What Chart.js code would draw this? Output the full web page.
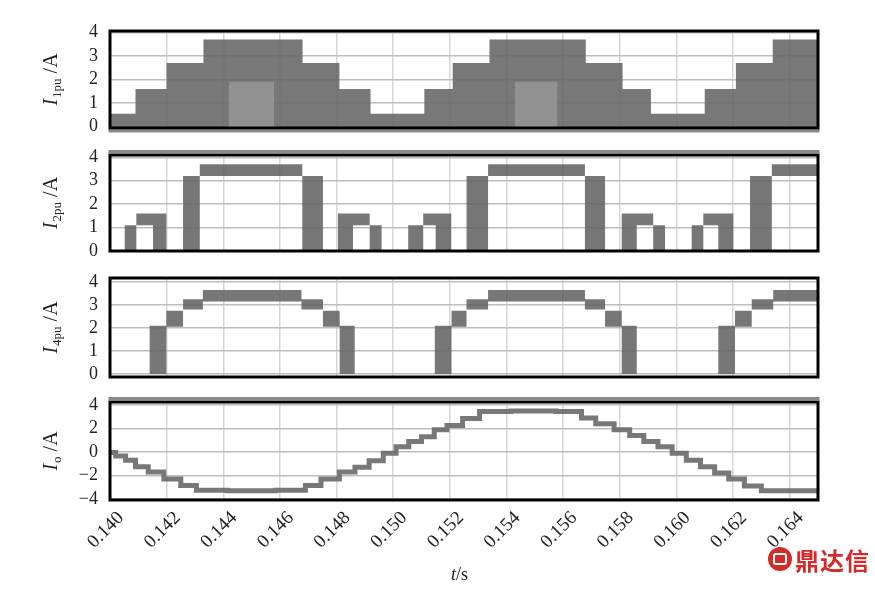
<!DOCTYPE html>
<html>
<head>
<meta charset="utf-8">
<script src="https://cdn.jsdelivr.net/npm/chart.js@4.4.0/dist/chart.umd.min.js"></script>
<style>
  body { margin: 0; background: #fff; width: 875px; height: 589px; position: relative; overflow: hidden; }
  canvas { position: absolute; left: 0; }
  .xt { position: absolute; left: 451px; top: 564px; font: 18px 'Liberation Serif', serif; color: #222; }
  .mark { position: absolute; left: 768px; top: 545px; height: 28px; display: flex; align-items: center; }
  .logo { width: 24px; height: 24px; border-radius: 50%; background: #d42a2a; position: relative; margin-right: 3px; }
  .logo:after { content: ''; position: absolute; left: 5px; top: 6px; width: 10px; height: 8px; border: 2px solid #fff; border-radius: 3px; }
  .mark span { font: bold 24px 'Noto Sans CJK SC', sans-serif; color: #d42a2a; letter-spacing: 1px; }
</style>
</head>
<body>
<canvas id="c1" width="875" height="121" style="top:19px"></canvas>
<canvas id="c2" width="875" height="120" style="top:143px"></canvas>
<canvas id="c3" width="875" height="123" style="top:266px"></canvas>
<canvas id="c4" width="875" height="199" style="top:390px"></canvas>
<div class="xt"><i>t</i>/s</div>
<div class="mark"><div class="logo"></div><span>鼎达信</span></div>
<script>
// time ticks (s)
const xTicks = [0.140, 0.142, 0.144, 0.146, 0.148, 0.150, 0.152, 0.154, 0.156, 0.158, 0.160, 0.162, 0.164];

// I1pu envelope (step levels, held until next time)
const i1T  = [0.1400, 0.1409, 0.1420, 0.1433, 0.1468, 0.1481, 0.1492, 0.1511, 0.1521, 0.1534, 0.1568, 0.1581, 0.1591, 0.1610, 0.1621, 0.1634, 0.1650];
const i1Hi = [0.55, 1.6, 2.7, 3.7, 2.7, 1.6, 0.55, 1.6, 2.7, 3.7, 2.7, 1.6, 0.55, 1.6, 2.7, 3.7, 3.7];
// lighter inner patches of I1pu
const i1PatchT = [0.1442, 0.1458, 0.1500, 0.1543, 0.1558];
const i1PatchY = [1.9, 1.9, null, 1.9, 1.9];

// I2pu band: lower / upper edge
const i2T  = [0.1400, 0.14052, 0.14093, 0.14152, 0.14199, 0.14258, 0.14317, 0.14679, 0.14752, 0.14805, 0.14858, 0.14917, 0.14959,
              0.15053, 0.15106, 0.15150, 0.15205, 0.15259, 0.15335, 0.15677, 0.15748, 0.15807, 0.15860, 0.15918, 0.15960,
              0.16054, 0.16095, 0.16148, 0.16201, 0.16260, 0.16337, 0.1650];
const i2Lo = [0, 0, 1.1, 0, 0, 0, 3.2, 0, 0, 0, 1.1, 0, 0,
              0, 1.1, 0, 0, 0, 3.2, 0, 0, 0, 1.1, 0, 0,
              0, 1.1, 0, 0, 0, 3.2, 3.2];
const i2Hi = [0, 1.1, 1.6, 1.6, 0, 3.2, 3.7, 3.2, 0, 1.6, 1.6, 1.1, 0,
              1.1, 1.6, 1.6, 0, 3.2, 3.7, 3.2, 0, 1.6, 1.6, 1.1, 0,
              1.1, 1.6, 1.6, 0, 3.2, 3.7, 3.7];

// I4pu band: lower / upper edge
const i4T  = [0.1400, 0.1414, 0.14199, 0.14258, 0.14328, 0.14676, 0.14752, 0.14811, 0.14864,
              0.15147, 0.15206, 0.15259, 0.15335, 0.15677, 0.15748, 0.15807, 0.1586,
              0.16148, 0.16207, 0.16266, 0.16342, 0.1650];
const i4Lo = [0, 0, 2.05, 2.8, 3.15, 2.8, 2.05, 0, 0,
              0, 2.05, 2.8, 3.15, 2.8, 2.05, 0, 0,
              0, 2.05, 2.8, 3.15, 3.15];
const i4Hi = [0, 2.1, 2.75, 3.25, 3.65, 3.25, 2.75, 2.1, 0,
              2.1, 2.75, 3.25, 3.65, 3.25, 2.75, 2.1, 0,
              2.1, 2.75, 3.25, 3.65, 3.65];

// Io staircase
const ioT = [0.1400, 0.1404, 0.1407, 0.1411, 0.1416, 0.1422, 0.1428, 0.1433, 0.1450, 0.1467, 0.1471, 0.1478, 0.1484, 0.1489,
             0.1494, 0.1499, 0.1503, 0.1508, 0.1512, 0.1517, 0.1521, 0.1528, 0.1533, 0.1550, 0.1565, 0.1568, 0.1575, 0.1581,
             0.1586, 0.1591, 0.1596, 0.1601, 0.1606, 0.1611, 0.1616, 0.1621, 0.1627, 0.1633, 0.1650];
const ioY = [-0.05, -0.35, -0.7, -1.25, -1.7, -2.3, -2.85, -3.25, -3.3, -3.25, -2.85, -2.3, -1.7, -1.3,
             -0.75, -0.1, 0.45, 0.9, 1.3, 1.9, 2.25, 2.85, 3.45, 3.5, 3.45, 2.9, 2.4, 1.9,
             1.4, 0.9, 0.45, -0.1, -0.7, -1.25, -1.8, -2.3, -2.9, -3.3, -3.3];

const yTicksPos = [0, 1, 2, 3, 4];
const yTicksIo = [-4, -2, 0, 2, 4];

const pts = (xs, ys) => xs.map((x, i) => ({ x: x, y: ys[i] }));
const serif = "'Liberation Serif', 'Times New Roman', serif";

const framePlugin = {
  id: 'frame',
  afterDraw(chart, args, o) {
    const { ctx, chartArea: a } = chart;
    ctx.save();
    if (o.grayTop) { ctx.fillStyle = '#8a8a8a'; ctx.fillRect(a.left - 1.5, a.top - 5, a.right - a.left + 3, 3); }
    if (o.grayBottom) { ctx.fillStyle = '#8a8a8a'; ctx.fillRect(a.left - 1.5, a.bottom + 1.5, a.right - a.left + 3, 3); }
    ctx.strokeStyle = '#000';
    ctx.lineWidth = 3;
    ctx.strokeRect(a.left, a.top, a.right - a.left, a.bottom - a.top);
    // y title: I_sub /A
    ctx.translate(50, (a.top + a.bottom) / 2);
    ctx.rotate(-Math.PI / 2);
    ctx.fillStyle = '#222';
    ctx.textBaseline = 'alphabetic';
    const big = '20px ' + serif, bigI = 'italic 20px ' + serif, small = '13px ' + serif;
    ctx.font = bigI; const w1 = ctx.measureText('I').width;
    ctx.font = small; const w2 = ctx.measureText(o.sub).width;
    ctx.font = big; const w3 = ctx.measureText(' /A').width;
    let x = -(w1 + w2 + w3 + 1) / 2;
    ctx.font = bigI; ctx.fillText('I', x, 7); x += w1 + 1;
    ctx.font = small; ctx.fillText(o.sub, x, 11); x += w2;
    ctx.font = big; ctx.fillText(' /A', x, 7);
    ctx.restore();
  }
};

function makePanel(id, cfg) {
  const last = !!cfg.last;
  new Chart(document.getElementById(id), {
    type: 'line',
    data: { datasets: cfg.datasets },
    plugins: [framePlugin],
    options: {
      responsive: false,
      animation: false,
      layout: { padding: { top: 12, bottom: last ? 0 : 12, right: 57, left: 0 } },
      plugins: {
        legend: { display: false },
        tooltip: { enabled: false },
        frame: { sub: cfg.sub, grayTop: cfg.grayTop, grayBottom: cfg.grayBottom }
      },
      elements: { point: { radius: 0 } },
      scales: {
        x: {
          type: 'linear', min: 0.140, max: 0.165,
          afterBuildTicks: s => { s.ticks = xTicks.map(v => ({ value: v })); },
          afterFit: s => { s.height = last ? 89 : 0; s.paddingLeft = 0; s.paddingRight = 0; },
          border: { display: false },
          grid: { color: '#d6d6d6', lineWidth: 1.5, drawTicks: false },
          ticks: {
            display: last, autoSkip: false, minRotation: 45, maxRotation: 45, padding: 7, labelOffset: 11,
            color: '#222', font: { family: serif, size: 19 },
            callback: v => v.toFixed(3)
          }
        },
        y: {
          min: cfg.min, max: cfg.max,
          afterBuildTicks: s => { s.ticks = cfg.ticks.map(v => ({ value: v })); },
          afterFit: s => { s.width = 110; s.paddingTop = 0; s.paddingBottom = 0; },
          border: { display: false },
          grid: { color: '#bdbdbd', lineWidth: 1.5, drawTicks: false, borderDash: [6, 3] },
          ticks: {
            autoSkip: false, padding: 12, color: '#222', font: { family: serif, size: 18 },
            callback: v => String(v).replace('-', '\u2212')
          }
        }
      }
    }
  });
}

makePanel('c1', {
  sub: '1pu', min: -0.06, max: 4.06, ticks: yTicksPos, grayBottom: true,
  datasets: [
    { data: pts(i1T, i1Hi), stepped: true, borderWidth: 0, fill: 'start', backgroundColor: 'rgba(105,105,105,0.9)' },
    { data: pts(i1PatchT, i1PatchY), stepped: true, borderWidth: 0, fill: 'start', order: -1, backgroundColor: 'rgba(148,148,148,0.95)', spanGaps: false }
  ]
});

makePanel('c2', {
  sub: '2pu', min: 0, max: 4.1, ticks: yTicksPos, grayTop: true,
  datasets: [
    { data: pts(i2T, i2Lo), stepped: true, borderWidth: 0, fill: false },
    { data: pts(i2T, i2Hi), stepped: true, borderWidth: 0, fill: '-1', backgroundColor: 'rgba(100,100,100,0.88)' }
  ]
});

makePanel('c3', {
  sub: '4pu', min: -0.13, max: 4.17, ticks: yTicksPos,
  datasets: [
    { data: pts(i4T, i4Lo), stepped: true, borderWidth: 0, fill: false },
    { data: pts(i4T, i4Hi), stepped: true, borderWidth: 0, fill: '-1', backgroundColor: 'rgba(100,100,100,0.88)' }
  ]
});

makePanel('c4', {
  sub: 'o', min: -4.09, max: 4.26, ticks: yTicksIo, grayTop: true, last: true,
  datasets: [
    { data: pts(ioT, ioY), stepped: 'middle', borderWidth: 5, borderColor: 'rgba(105,105,105,0.9)', fill: false }
  ]
});
</script>
</body>
</html>
